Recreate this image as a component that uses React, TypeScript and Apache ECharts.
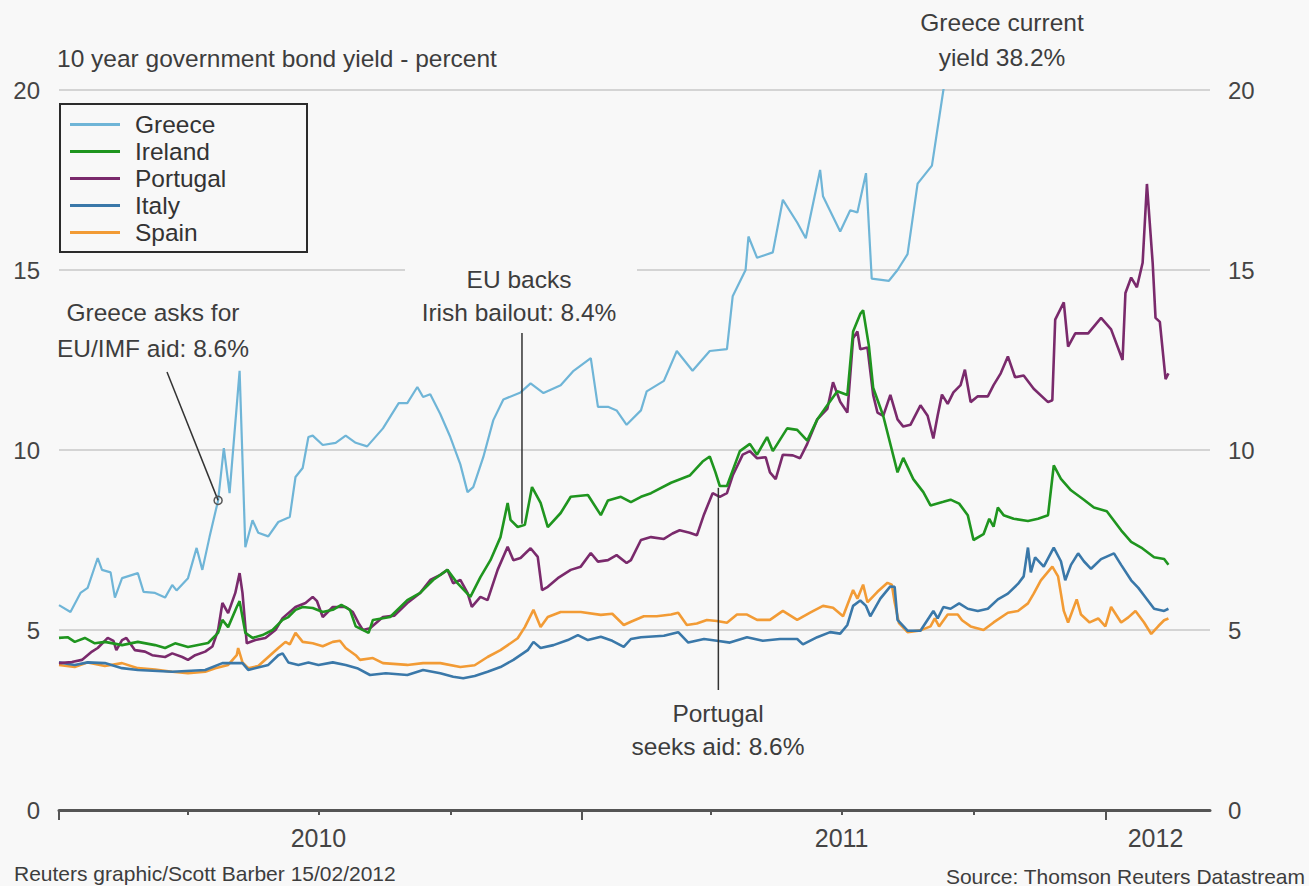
import React, { useEffect, useRef } from "react";
import * as echarts from "echarts";

// x values are days since 1 January 2010; y values are 10-year yields in percent
const quarterTickDays = [0, 90, 181, 273, 365, 455, 546, 638, 730];
const yearTickDays = [0, 365, 730];
const yearLabelDays = [181, 546, 765];
const yearLabels = ["2010", "2011", "2012"];
const xMaxDay = 803;

const greece: [number, number][] = [[0,5.69],[8,5.5],[15,6.03],[20,6.17],[27,7.0],[30,6.67],[36,6.6],[39,5.9],[44,6.44],[55,6.58],[59,6.06],[67,6.03],[74,5.9],[79,6.25],[82,6.1],[90,6.44],[96,7.28],[100,6.67],[105,7.58],[111,8.6],[115,10.05],[119,8.8],[126,12.2],[130,7.3],[135,8.05],[139,7.7],[146,7.6],[153,8.0],[161,8.14],[165,9.25],[170,9.5],[174,10.36],[177,10.4],[184,10.14],[193,10.2],[200,10.4],[207,10.2],[215,10.1],[226,10.6],[237,11.3],[243,11.3],[250,11.75],[254,11.47],[259,11.55],[266,11.0],[273,10.36],[280,9.6],[285,8.83],[289,8.97],[296,9.8],[303,10.83],[310,11.4],[322,11.6],[329,11.85],[338,11.58],[350,11.8],[359,12.2],[371,12.55],[376,11.2],[383,11.2],[389,11.1],[396,10.7],[406,11.1],[410,11.63],[422,11.92],[431,12.75],[442,12.2],[454,12.75],[466,12.8],[470,14.27],[479,15.0],[481,15.93],[487,15.34],[498,15.49],[505,16.95],[515,16.32],[521,15.88],[531,17.78],[533,17.05],[545,16.07],[552,16.66],[557,16.6],[563,17.69],[567,14.76],[579,14.7],[585,15.0],[592,15.44],[599,17.4],[609,17.9],[617,20.0],[625,21.8],[645,22.5],[665,24.0],[690,27.5],[710,31.0],[730,34.5],[750,34.0],[775,38.2]];

const ireland: [number, number][] = [[0,4.78],[6,4.8],[11,4.67],[18,4.78],[25,4.63],[32,4.67],[44,4.58],[55,4.67],[67,4.58],[74,4.5],[81,4.63],[90,4.53],[104,4.64],[111,4.92],[114,5.28],[118,5.08],[124,5.64],[126,5.8],[130,4.92],[135,4.78],[142,4.86],[149,5.0],[156,5.28],[160,5.36],[165,5.56],[170,5.64],[177,5.61],[184,5.5],[191,5.56],[197,5.7],[203,5.56],[207,5.1],[216,4.92],[219,5.28],[231,5.36],[243,5.83],[252,6.03],[261,6.39],[271,6.67],[278,6.3],[287,5.92],[294,6.47],[301,6.94],[308,7.58],[313,8.53],[315,8.06],[320,7.86],[325,7.92],[330,8.97],[336,8.53],[341,7.86],[350,8.25],[357,8.7],[369,8.75],[378,8.19],[383,8.6],[392,8.7],[399,8.55],[406,8.7],[413,8.8],[427,9.09],[440,9.29],[449,9.68],[454,9.82],[458,9.38],[461,9.0],[466,9.0],[475,9.97],[482,10.17],[487,9.87],[494,10.36],[498,9.97],[508,10.6],[515,10.56],[522,10.26],[529,10.85],[536,11.24],[543,11.63],[550,11.53],[554,13.29],[559,13.78],[561,13.88],[565,12.9],[568,11.73],[575,10.95],[585,9.38],[589,9.78],[596,9.19],[603,8.83],[608,8.46],[617,8.56],[622,8.62],[628,8.51],[634,8.19],[638,7.5],[645,7.66],[649,8.09],[652,7.87],[655,8.4],[659,8.19],[666,8.09],[676,8.03],[683,8.09],[690,8.19],[694,9.57],[699,9.2],[706,8.88],[715,8.62],[722,8.4],[731,8.3],[741,7.77],[748,7.45],[755,7.29],[764,7.02],[771,6.97],[774,6.81]];

const portugal: [number, number][] = [[0,4.08],[9,4.11],[16,4.17],[23,4.4],[27,4.5],[34,4.78],[38,4.7],[40,4.44],[44,4.72],[47,4.78],[53,4.44],[60,4.4],[65,4.3],[74,4.25],[79,4.35],[86,4.25],[90,4.17],[95,4.3],[102,4.4],[107,4.54],[111,5.0],[114,5.75],[118,5.47],[123,6.03],[126,6.58],[128,6.03],[131,4.63],[137,4.72],[144,4.78],[151,5.0],[156,5.33],[165,5.64],[172,5.75],[177,5.92],[180,5.8],[184,5.36],[191,5.64],[200,5.64],[205,5.5],[209,5.19],[212,5.0],[217,5.05],[226,5.36],[234,5.4],[243,5.75],[252,6.03],[259,6.39],[266,6.53],[271,6.67],[275,6.3],[280,6.39],[285,6.03],[288,5.64],[294,5.92],[299,5.83],[306,6.67],[313,7.31],[317,6.94],[322,7.0],[329,7.27],[334,7.03],[337,6.11],[341,6.2],[348,6.44],[357,6.67],[364,6.76],[371,7.14],[376,6.9],[383,6.94],[389,7.08],[396,6.86],[399,6.94],[406,7.5],[413,7.58],[422,7.53],[428,7.68],[433,7.77],[440,7.7],[445,7.63],[450,8.21],[456,8.8],[461,8.7],[466,8.8],[470,9.29],[477,9.87],[482,9.97],[487,9.77],[493,9.8],[496,9.38],[500,9.19],[505,9.87],[512,9.85],[517,9.77],[522,10.17],[529,10.85],[536,11.14],[540,11.88],[545,11.34],[550,11.04],[554,13.1],[557,13.29],[559,12.8],[564,12.85],[568,11.53],[571,11.04],[575,10.95],[580,11.53],[585,10.85],[589,10.65],[594,10.7],[601,11.24],[606,10.95],[610,10.32],[613,10.96],[616,11.54],[620,11.28],[624,11.6],[629,11.8],[632,12.23],[636,11.33],[641,11.49],[648,11.49],[652,11.8],[657,12.13],[662,12.6],[667,12.02],[673,12.07],[680,11.7],[690,11.33],[693,11.38],[695,13.62],[701,14.1],[704,12.87],[709,13.24],[718,13.24],[727,13.67],[734,13.35],[742,12.5],[744,14.36],[748,14.79],[752,14.52],[756,15.2],[759,17.39],[763,15.2],[765,13.67],[768,13.56],[772,11.97],[774,12.13]];

const italy: [number, number][] = [[0,4.1],[11,4.03],[20,4.1],[32,4.08],[44,3.94],[55,3.89],[79,3.84],[102,3.89],[114,4.08],[128,4.08],[132,3.89],[146,4.03],[153,4.3],[156,4.35],[160,4.1],[167,4.03],[174,4.1],[181,4.03],[191,4.1],[200,4.03],[208,3.94],[217,3.75],[228,3.8],[243,3.75],[254,3.89],[266,3.8],[275,3.7],[282,3.66],[290,3.72],[299,3.84],[308,3.97],[317,4.17],[327,4.44],[331,4.67],[336,4.5],[345,4.58],[355,4.72],[362,4.86],[369,4.72],[378,4.81],[386,4.7],[394,4.53],[399,4.75],[406,4.8],[422,4.84],[432,4.94],[439,4.65],[450,4.75],[459,4.7],[468,4.65],[480,4.8],[491,4.7],[503,4.75],[515,4.75],[519,4.6],[529,4.8],[538,4.94],[545,4.9],[550,5.14],[554,5.67],[559,5.82],[563,5.67],[566,5.38],[573,5.87],[580,6.21],[583,6.2],[585,5.28],[592,4.98],[601,4.98],[610,5.53],[613,5.32],[617,5.64],[622,5.59],[628,5.74],[634,5.59],[641,5.53],[648,5.59],[655,5.85],[662,6.01],[669,6.28],[673,6.49],[676,7.29],[678,6.6],[681,7.02],[687,6.76],[694,7.29],[699,6.91],[702,6.38],[706,6.81],[711,7.13],[715,6.91],[720,6.7],[727,6.97],[736,7.13],[741,6.81],[748,6.38],[753,6.17],[757,5.96],[764,5.59],[771,5.53],[774,5.59]];

const spain: [number, number][] = [[0,4.03],[11,3.97],[20,4.1],[32,4.0],[44,4.08],[55,3.94],[67,3.9],[79,3.84],[90,3.8],[102,3.84],[109,3.94],[118,4.03],[124,4.3],[125,4.5],[128,4.1],[132,3.94],[139,4.0],[146,4.25],[153,4.5],[158,4.67],[161,4.6],[165,4.92],[170,4.67],[177,4.63],[184,4.55],[191,4.67],[196,4.7],[200,4.5],[207,4.3],[210,4.17],[219,4.22],[226,4.08],[243,4.03],[254,4.08],[266,4.08],[280,3.97],[290,4.02],[299,4.25],[308,4.44],[320,4.77],[325,5.08],[331,5.56],[336,5.08],[341,5.36],[350,5.5],[364,5.5],[378,5.42],[386,5.45],[394,5.14],[399,5.23],[408,5.38],[417,5.38],[427,5.43],[432,5.48],[438,5.14],[445,5.18],[452,5.28],[459,5.25],[466,5.2],[473,5.43],[480,5.43],[487,5.28],[496,5.28],[505,5.53],[515,5.28],[524,5.48],[533,5.67],[540,5.62],[547,5.38],[554,6.11],[557,5.87],[561,6.26],[564,5.77],[571,6.06],[578,6.31],[581,6.26],[583,5.77],[586,5.19],[592,4.94],[601,4.99],[608,5.1],[611,5.32],[614,5.1],[620,5.43],[627,5.43],[630,5.27],[636,5.1],[645,5.0],[652,5.21],[662,5.48],[669,5.53],[676,5.74],[680,6.01],[685,6.38],[693,6.76],[697,6.49],[699,6.01],[701,5.53],[704,5.21],[710,5.85],[713,5.43],[719,5.21],[725,5.32],[730,5.1],[734,5.64],[741,5.21],[746,5.35],[751,5.53],[757,5.21],[762,4.89],[767,5.11],[771,5.27],[774,5.32]];

const seriesNames = ["Greece", "Ireland", "Portugal", "Italy", "Spain"];

// annotation anchors: [day, yield]
const greeceAidPoint: [number, number] = [111, 8.6];
const irishBailoutPoint: [number, number] = [323, 7.95];
const portugalAidPoint: [number, number] = [460, 8.95];

const FONT = '"Liberation Sans", Arial, Helvetica, sans-serif';
const BG = "#f8f8f8";
const TXT = "#3d3d3d";

export default function App() {
  const ref = useRef<HTMLDivElement>(null);
  useEffect(() => {
    if (!ref.current) return;
    const chart = echarts.init(ref.current, null, { renderer: "svg" });
    const colors: Record<string, string> = {
      Greece: "#6fb5d7",
      Ireland: "#1f951f",
      Portugal: "#7a2a6c",
      Italy: "#3a78a9",
      Spain: "#f29b35",
    };
    const dataMap: Record<string, [number, number][]> = {
      Greece: greece,
      Ireland: ireland,
      Portugal: portugal,
      Italy: italy,
      Spain: spain,
    };
    const drawOrder = ["Greece", "Spain", "Italy", "Portugal", "Ireland"];
    const yAxisBase = {
      type: "value",
      min: 0,
      max: 20,
      interval: 5,
      axisLine: { show: false },
      axisTick: { show: false },
    };
    chart.setOption({
      animation: false,
      backgroundColor: BG,
      textStyle: { fontFamily: FONT },
      grid: { left: 59, right: 99, top: 90, bottom: 76, containLabel: false },
      legend: {
        data: seriesNames,
        orient: "vertical",
        left: 70,
        top: 111,
        padding: 0,
        itemGap: 0,
        itemWidth: 50,
        itemHeight: 3,
        icon: "rect",
        selectedMode: false,
        textStyle: { fontSize: 24.5, color: "#333", fontFamily: FONT, lineHeight: 27, padding: [0, 0, 0, 10] },
      },
      xAxis: [
        {
          type: "value",
          min: 0,
          max: xMaxDay,
          axisLine: { show: true, lineStyle: { color: "#555", width: 3 } },
          axisTick: { show: true, customValues: quarterTickDays, length: 5, lineStyle: { color: "#555", width: 2 } },
          axisLabel: {
            show: true,
            customValues: yearLabelDays,
            formatter: (v: number) => {
              const i = yearLabelDays.indexOf(Math.round(v));
              return i >= 0 ? yearLabels[i] : "";
            },
            fontSize: 25,
            color: "#444",
            margin: 15,
            fontFamily: FONT,
          },
          splitLine: { show: false },
        },
        {
          type: "value",
          min: 0,
          max: xMaxDay,
          position: "bottom",
          axisLine: { show: false },
          axisTick: { show: true, customValues: yearTickDays, length: 10, lineStyle: { color: "#555", width: 2 } },
          axisLabel: { show: false },
          splitLine: { show: false },
        },
      ],
      yAxis: [
        {
          ...yAxisBase,
          position: "left",
          axisLabel: { fontSize: 24, color: "#444", margin: 19, fontFamily: FONT },
          splitLine: { show: true, lineStyle: { color: "#c8c8c8", width: 1.5 } },
        },
        {
          ...yAxisBase,
          position: "right",
          axisLabel: { fontSize: 24, color: "#444", margin: 18, fontFamily: FONT },
          splitLine: { show: false },
        },
      ],
      series: drawOrder.map((name) => ({
        name,
        type: "line",
        xAxisIndex: 0,
        yAxisIndex: 0,
        data: dataMap[name],
        symbol: "none",
        showSymbol: false,
        clip: true,
        lineStyle: { color: colors[name], width: name === "Greece" ? 2.2 : 2.6 },
        itemStyle: { color: colors[name] },
        emphasis: { disabled: true },
      })),
    });

    const px = (p: [number, number]) => chart.convertToPixel({ gridIndex: 0 }, p) as number[];
    const g = px(greeceAidPoint);
    const ir = px(irishBailoutPoint);
    const pt = px(portugalAidPoint);

    const text = (t: string, x: number, y: number, align = "center", size = 24.5) => ({
      type: "text",
      x,
      y,
      z: 60,
      style: { text: t, fill: TXT, font: `${size}px ${FONT}`, textAlign: align, textVerticalAlign: "middle" },
    });

    chart.setOption({
      graphic: {
        elements: [
          {
            type: "rect",
            z: 55,
            shape: { x: 60, y: 104, width: 247, height: 148 },
            style: { fill: "none", stroke: "#2b2b2b", lineWidth: 2 },
          },
          {
            type: "rect",
            z: 55,
            shape: { x: 405, y: 262, width: 232, height: 64 },
            style: { fill: BG },
          },
          text("10 year government bond yield - percent", 57, 58, "left"),
          text("Greece asks for", 153, 312),
          text("EU/IMF aid: 8.6%", 153, 348),
          text("EU backs", 519, 279),
          text("Irish bailout: 8.4%", 519, 312),
          text("Portugal", 718, 713),
          text("seeks aid: 8.6%", 718, 746),
          text("Greece current", 1002, 22),
          text("yield 38.2%", 1002, 57),
          text("Reuters graphic/Scott Barber 15/02/2012", 14, 873, "left", 21),
          text("Source: Thomson Reuters Datastream", 1305, 876, "right", 21),
          {
            type: "line",
            z: 60,
            shape: { x1: 167, y1: 372, x2: g[0], y2: g[1] },
            style: { stroke: "#333", lineWidth: 1.5 },
          },
          {
            type: "circle",
            z: 61,
            shape: { cx: g[0], cy: g[1], r: 4 },
            style: { fill: "none", stroke: "#555", lineWidth: 1.5 },
          },
          {
            type: "line",
            z: 60,
            shape: { x1: ir[0], y1: 333, x2: ir[0], y2: ir[1] },
            style: { stroke: "#333", lineWidth: 1.5 },
          },
          {
            type: "line",
            z: 60,
            shape: { x1: pt[0], y1: pt[1], x2: pt[0], y2: 690 },
            style: { stroke: "#333", lineWidth: 1.5 },
          },
        ],
      },
    });
    return () => chart.dispose();
  }, []);
  return <div ref={ref} style={{ position: "fixed", left: 0, top: 0, width: 1309, height: 886 }} />;
}
